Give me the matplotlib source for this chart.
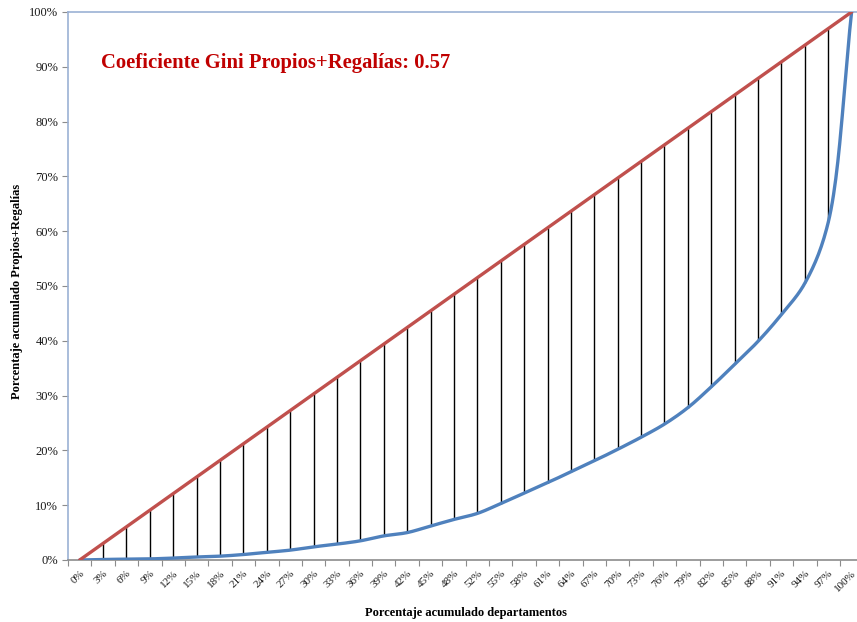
import numpy as np
import matplotlib
matplotlib.use("Agg")
import matplotlib.pyplot as plt
from matplotlib.ticker import FixedLocator, NullFormatter, FuncFormatter

# ---- data ----
categories = ["0%", "3%", "6%", "9%", "12%", "15%", "18%", "21%", "24%", "27%",
              "30%", "33%", "36%", "39%", "42%", "45%", "48%", "52%", "55%", "58%",
              "61%", "64%", "67%", "70%", "73%", "76%", "79%", "82%", "85%", "88%",
              "91%", "94%", "97%", "100%"]
equality = [i / 33 for i in range(34)]
lorenz = [0.0, 0.001, 0.0015, 0.002, 0.0035, 0.0055, 0.007, 0.010, 0.014, 0.018,
          0.024, 0.029, 0.035, 0.044, 0.050, 0.062, 0.074, 0.085, 0.103, 0.122,
          0.141, 0.161, 0.181, 0.202, 0.224, 0.248, 0.278, 0.316, 0.357, 0.399,
          0.448, 0.505, 0.616, 1.0]
title_text = "Coeficiente Gini Propios+Regalías: 0.57"
xlabel = "Porcentaje acumulado departamentos"
ylabel = "Porcentaje acumulado Propios+Regalías"

plt.rcParams['font.family'] = ['Liberation Serif', 'DejaVu Serif']


def centripetal_cr(x, y, yscale=23.4, n=24, alpha=0.5):
    """Centripetal Catmull-Rom smoothing (like a spreadsheet 'smoothed line')."""
    P = np.column_stack([np.asarray(x, float), np.asarray(y, float) * yscale])
    P = np.vstack([2 * P[0] - P[1], P, 2 * P[-1] - P[-2]])
    out = []
    for i in range(1, len(P) - 2):
        p0, p1, p2, p3 = P[i - 1], P[i], P[i + 1], P[i + 2]
        t0 = 0.0
        t1 = t0 + np.linalg.norm(p1 - p0) ** alpha
        t2 = t1 + np.linalg.norm(p2 - p1) ** alpha
        t3 = t2 + np.linalg.norm(p3 - p2) ** alpha
        t = np.linspace(t1, t2, n, endpoint=False)[:, None]
        a1 = (t1 - t) / (t1 - t0) * p0 + (t - t0) / (t1 - t0) * p1
        a2 = (t2 - t) / (t2 - t1) * p1 + (t - t1) / (t2 - t1) * p2
        a3 = (t3 - t) / (t3 - t2) * p2 + (t - t2) / (t3 - t2) * p3
        b1 = (t2 - t) / (t2 - t0) * a1 + (t - t0) / (t2 - t0) * a2
        b2 = (t3 - t) / (t3 - t1) * a2 + (t - t1) / (t3 - t1) * a3
        c = (t2 - t) / (t2 - t1) * b1 + (t - t1) / (t2 - t1) * b2
        out.append(c)
    out.append(P[-2][None, :])
    C = np.vstack(out)
    return C[:, 0], C[:, 1] / yscale


fig = plt.figure(figsize=(8.57, 6.22), dpi=100)
ax = fig.add_axes([68/857, 62/622, (863.3-68)/857, 548/622])

xi = np.arange(len(categories))
# vertical lines
for i in range(1, len(categories) - 1):
    ax.vlines(xi[i], lorenz[i], equality[i], color='black', lw=1.0, zorder=2)

sx, sy = centripetal_cr(xi, lorenz)
ax.plot(sx, sy, color='#4F81BD', lw=2.4, zorder=3, solid_capstyle='round')
ax.plot(xi, equality, color='#C0504D', lw=2.4, zorder=4, solid_capstyle='round')

ax.set_xlim(-0.5, len(categories) - 0.5)
ax.set_ylim(0, 1)

ax.xaxis.set_major_locator(FixedLocator(np.arange(-0.5, len(categories), 1.0)))
ax.xaxis.set_major_formatter(NullFormatter())
ax.set_xticks(xi, minor=True)
ax.set_xticklabels(categories, minor=True, rotation=45, ha='right', va='top',
                   rotation_mode='anchor', fontsize=8, color='#1a1a1a')
ax.tick_params(axis='x', which='minor', length=0, pad=6)
ax.tick_params(axis='x', which='major', length=4, color='#8C8C8C', direction='out')

ax.set_yticks(np.arange(0, 1.01, 0.1))
ax.yaxis.set_major_formatter(FuncFormatter(lambda v, p: f"{int(round(v*100))}%"))
ax.tick_params(axis='y', length=4, color='#8C8C8C', direction='out', labelsize=9,
               labelcolor='#1a1a1a', pad=3)

ax.spines['right'].set_visible(False)
ax.spines['top'].set_color('#9BB1D4')
ax.spines['left'].set_color('#9BB1D4')
ax.spines['bottom'].set_color('#8C8C8C')
for s in ['top', 'left', 'bottom']:
    ax.spines[s].set_linewidth(1.2)

ax.text((101 - 68) / 795.3, (560 - 63) / 548, title_text, transform=ax.transAxes,
        color='#C00000', fontsize=14.9, fontweight='bold', ha='left', va='center')

fig.text((68 + 863.3) / 2 / 857, 1 - 613/622, xlabel, ha='center', va='center',
         fontsize=9, fontweight='bold')
fig.text(17/857, 1 - 291/622, ylabel, ha='center', va='center', rotation=90,
         fontsize=9, fontweight='bold')

fig.savefig('out.png', dpi=100)
